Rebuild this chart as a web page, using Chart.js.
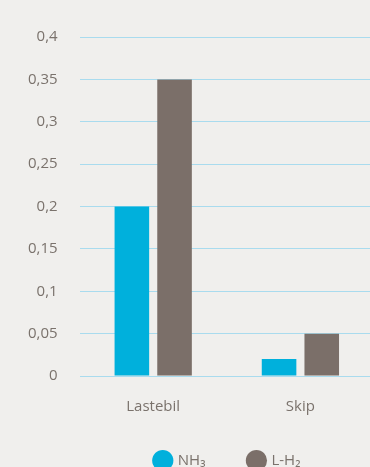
<!DOCTYPE html>
<html>
<head>
<meta charset="utf-8">
<script src="https://cdn.jsdelivr.net/npm/chart.js@4"></script>
<style>
  html, body { margin: 0; padding: 0; background: #f0efed; overflow: hidden; }
  #wrap { position: relative; width: 374px; height: 478px; }
</style>
</head>
<body>
<div id="wrap"><canvas id="transportChart"></canvas></div>
<script>
// data
const categories = ['Lastebil', 'Skip'];
const nh3Values = [0.2, 0.02];
const lh2Values = [0.35, 0.05];
const yTickValues = [0, 0.05, 0.1, 0.15, 0.2, 0.25, 0.3, 0.35, 0.4];
const yTickLabels = ['0', '0,05', '0,1', '0,15', '0,2', '0,25', '0,3', '0,35', '0,4'];

const textColor = '#7a726c';
const gridColor = '#a9dbee';

new Chart(document.getElementById('transportChart'), {
    type: 'bar',
    data: {
        labels: categories,
        datasets: [
            {
                label: 'NH\u2083',
                data: nh3Values,
                backgroundColor: '#00b0dc',
                barPercentage: 0.81,
                categoryPercentage: 0.58
            },
            {
                label: 'L-H\u2082',
                data: lh2Values,
                backgroundColor: '#7b6f69',
                barPercentage: 0.81,
                categoryPercentage: 0.58
            }
        ]
    },
    options: {
        responsive: true,
        maintainAspectRatio: false,
        animation: false,
        layout: { padding: { top: 37, right: 0, left: 6, bottom: 0 } },
        plugins: {
            tooltip: { enabled: false },
            legend: {
                position: 'bottom',
                align: 'end',
                labels: {
                    usePointStyle: true,
                    pointStyle: 'circle',
                    boxWidth: 16,
                    boxHeight: 16,
                    padding: 23,
                    color: textColor,
                    font: { family: 'Open Sans', size: 15 },
                    // trailing spaces set the gap between items and push the legend right
                    generateLabels: function (chart) {
                        const items = Chart.defaults.plugins.legend.labels.generateLabels(chart);
                        items[0].text += '    \u2009\u2009';
                        items[1].text += '             ';
                        return items;
                    }
                }
            }
        },
        scales: {
            x: {
                grid: { display: false },
                border: { display: false },
                ticks: {
                    color: textColor,
                    padding: 14,
                    font: { family: 'Open Sans', size: 15 }
                }
            },
            y: {
                min: 0,
                max: 0.4,
                afterBuildTicks: function (axis) {
                    axis.ticks = yTickValues.map(v => ({ value: v }));
                },
                grid: { color: gridColor, lineWidth: 1, drawTicks: false },
                border: { display: false },
                ticks: {
                    color: textColor,
                    padding: 22,
                    font: { family: 'Open Sans', size: 15 },
                    callback: function (value) {
                        const i = yTickValues.findIndex(v => Math.abs(v - value) < 1e-9);
                        return i >= 0 ? yTickLabels[i] : '';
                    }
                }
            }
        }
    }
});
</script>
</body>
</html>
